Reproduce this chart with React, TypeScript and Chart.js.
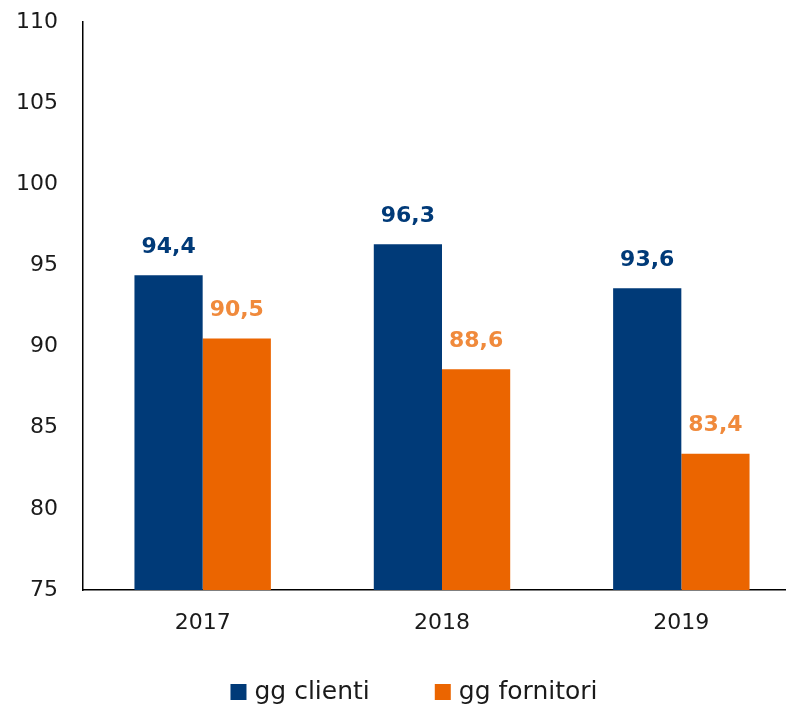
import React, { useEffect, useRef } from "react";
import { Chart, registerables } from "chart.js";

Chart.register(...registerables);

const categories = ["2017", "2018", "2019"];
const clienti = [94.4, 96.3, 93.6];
const fornitori = [90.5, 88.6, 83.4];
const seriesNames = ["gg clienti", "gg fornitori"];
const yTicks = [75, 80, 85, 90, 95, 100, 105, 110];

const BLUE = "#003a78";
const ORANGE = "#eb6500";
const ORANGE_LABEL = "#f08a3c";
const FONT = "'DejaVu Sans', sans-serif";

const labelPlugin = {
  id: "barLabels",
  afterDatasetsDraw(chart: any) {
    const ctx = chart.ctx;
    ctx.save();
    ctx.font = `bold 22px ${FONT}`;
    ctx.textAlign = "center";
    ctx.textBaseline = "middle";
    chart.data.datasets.forEach((ds: any, i: number) => {
      const meta = chart.getDatasetMeta(i);
      ctx.fillStyle = i === 0 ? BLUE : ORANGE_LABEL;
      meta.data.forEach((bar: any, j: number) => {
        const v = ds.data[j];
        ctx.fillText(v.toFixed(1).replace(".", ","), bar.x, bar.y - 28);
      });
    });
    ctx.restore();
  },
};

const legendPlugin = {
  id: "customLegend",
  afterDraw(chart: any) {
    const ctx = chart.ctx;
    ctx.save();
    ctx.font = `25px ${FONT}`;
    ctx.textBaseline = "middle";
    const box = 16;
    const gapBox = 8;
    const gapItem = 65;
    const items = chart.data.datasets.map((ds: any) => ({
      text: ds.label,
      color: ds.backgroundColor,
      w: ctx.measureText(ds.label).width,
    }));
    const total = items.reduce((a: number, it: any) => a + box + gapBox + it.w, 0) + gapItem * (items.length - 1);
    let x = chart.width / 2 - total / 2;
    const y = chart.height - 17;
    items.forEach((it: any) => {
      ctx.fillStyle = it.color;
      ctx.fillRect(x, y - box / 2, box, box);
      x += box + gapBox;
      ctx.fillStyle = "#1a1a1a";
      ctx.textAlign = "left";
      ctx.fillText(it.text, x, y);
      x += it.w + gapItem;
    });
    ctx.restore();
  },
};

export default function App() {
  const ref = useRef<HTMLCanvasElement>(null);
  useEffect(() => {
    const chart = new Chart(ref.current!, {
      type: "bar",
      data: {
        labels: categories,
        datasets: [
          { label: seriesNames[0], data: clienti, backgroundColor: BLUE },
          { label: seriesNames[1], data: fornitori, backgroundColor: ORANGE },
        ],
      },
      options: {
        animation: false,
        responsive: false,
        maintainAspectRatio: false,
        layout: { autoPadding: false, padding: { top: 22, right: 27, left: 0, bottom: 59 } },
        datasets: { bar: { categoryPercentage: 0.57, barPercentage: 1.0 } },
        scales: {
          x: {
            grid: { display: false, drawTicks: false },
            border: { display: true, color: "#000", width: 1.5 },
            ticks: { color: "#1a1a1a", font: { size: 22, family: FONT }, padding: 20 },
            afterFit: (s: any) => {
              s.height = 60;
              s.paddingLeft = 0;
              s.paddingRight = 0;
            },
          },
          y: {
            min: 75,
            max: 110,
            afterBuildTicks: (s: any) => {
              s.ticks = yTicks.map((v) => ({ value: v }));
            },
            grid: { display: false, drawTicks: false },
            border: { display: true, color: "#000", width: 1.5 },
            ticks: { color: "#1a1a1a", font: { size: 22, family: FONT }, padding: 25 },
            afterFit: (s: any) => {
              s.width = 83;
              s.paddingTop = 0;
              s.paddingBottom = 0;
            },
          },
        },
        plugins: {
          legend: { display: false },
          tooltip: { enabled: false },
        },
      },
      plugins: [labelPlugin, legendPlugin],
    });
    return () => chart.destroy();
  }, []);
  return (
    <div style={{ position: "fixed", left: 0, top: 0, width: 786, height: 709, overflow: "hidden", background: "#fff" }}>
      <canvas ref={ref} width={828} height={709} style={{ display: "block" }} />
    </div>
  );
}
